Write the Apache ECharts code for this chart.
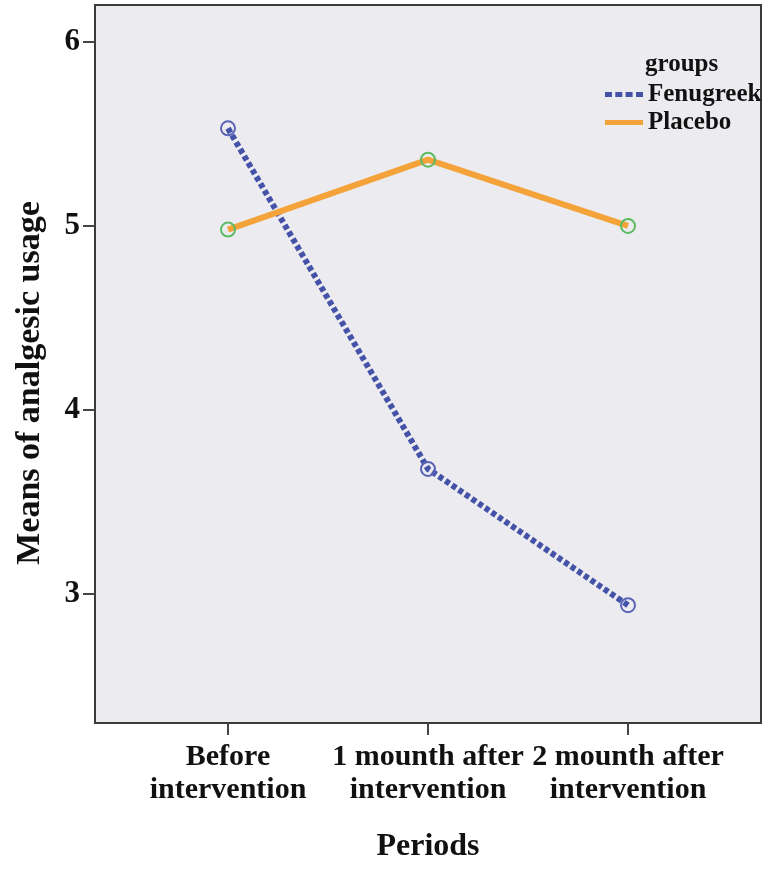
<!DOCTYPE html>
<html>
<head>
<meta charset="utf-8">
<script src="https://cdn.jsdelivr.net/npm/echarts@6/dist/echarts.min.js"></script>
<style>
html,body{margin:0;padding:0;background:#fff;}
#chart{width:767px;height:873px;}
</style>
</head>
<body>
<div id="chart"></div>
<script>
const categories = ['Before\nintervention', '1 mounth after\nintervention', '2 mounth after\nintervention'];
const seriesNames = ['Fenugreek', 'Placebo'];
const fenugreek = [5.53, 3.68, 2.94];
const placebo = [4.98, 5.36, 5.00];
const yTicks = [3, 4, 5, 6];
const xTicks = [0, 1, 2];

const FONT = '"Liberation Serif", "DejaVu Serif", serif';
const chart = echarts.init(document.getElementById('chart'), null, {renderer: 'canvas'});

const dotIcon = 'path://M0,0h7v5h-7z M10.3,0h7v5h-7z M20.6,0h7v5h-7z M31,0h7v5h-7z';

chart.setOption({
  animation: false,
  backgroundColor: '#ffffff',
  title: {
    text: 'groups',
    left: 640,
    top: 47,
    textStyle: {fontFamily: FONT, fontWeight: 'bold', fontSize: 25, color: '#111'}
  },
  legend: {
    orient: 'vertical',
    left: 600,
    top: 77,
    itemWidth: 38,
    itemHeight: 5,
    itemGap: 3,
    textStyle: {fontFamily: FONT, fontWeight: 'bold', fontSize: 25, color: '#111'},
    data: [
      {name: seriesNames[0], icon: dotIcon, itemStyle: {color: '#4452a8', borderWidth: 0}},
      {name: seriesNames[1], icon: 'rect', itemStyle: {color: '#f4a33a', borderWidth: 0}}
    ]
  },
  grid: {
    left: 95, right: 6, top: 5, bottom: 150,
    show: true,
    backgroundColor: '#ececf0',
    borderColor: '#3a3a3a',
    borderWidth: 2
  },
  xAxis: {
    type: 'value',
    min: -0.665,
    max: 2.665,
    name: 'Periods',
    nameLocation: 'middle',
    nameGap: 108,
    nameTextStyle: {fontFamily: FONT, fontWeight: 'bold', fontSize: 32, color: '#111'},
    splitLine: {show: false},
    axisLine: {show: true, onZero: false, lineStyle: {color: '#3a3a3a', width: 2}},
    axisTick: {show: true, length: 12, customValues: xTicks, lineStyle: {color: '#444', width: 2}},
    axisLabel: {
      customValues: xTicks,
      formatter: v => categories[Math.round(v)],
      fontFamily: FONT, fontWeight: 'bold', fontSize: 30, color: '#111',
      lineHeight: 33, margin: 18
    }
  },
  yAxis: {
    type: 'value',
    min: 2.3,
    max: 6.2,
    name: 'Means of analgesic usage',
    nameLocation: 'middle',
    nameGap: 48,
    nameRotate: 90,
    nameTextStyle: {fontFamily: FONT, fontWeight: 'bold', fontSize: 34, color: '#111', padding: [0, 38, 0, 0]},
    splitLine: {show: false},
    axisLine: {show: true, onZero: false, lineStyle: {color: '#3a3a3a', width: 2}},
    axisTick: {show: true, length: 12, customValues: yTicks, lineStyle: {color: '#444', width: 2}},
    axisLabel: {
      customValues: yTicks,
      fontFamily: FONT, fontWeight: 'bold', fontSize: 31, color: '#111', margin: 15
    }
  },
  series: [
    {
      name: seriesNames[0],
      type: 'line',
      data: fenugreek.map((v, i) => [i, v]),
      symbol: 'circle',
      symbolSize: 14,
      lineStyle: {color: '#4452a8', width: 6, type: [5, 3]},
      itemStyle: {color: 'rgba(0,0,0,0)', borderColor: '#5a63b6', borderWidth: 2},
      z: 2
    },
    {
      name: seriesNames[1],
      type: 'line',
      data: placebo.map((v, i) => [i, v]),
      symbol: 'circle',
      symbolSize: 14,
      lineStyle: {color: '#f4a33a', width: 6},
      itemStyle: {color: 'rgba(0,0,0,0)', borderColor: '#5dbb63', borderWidth: 2},
      z: 3
    }
  ]
});
</script>
</body>
</html>
